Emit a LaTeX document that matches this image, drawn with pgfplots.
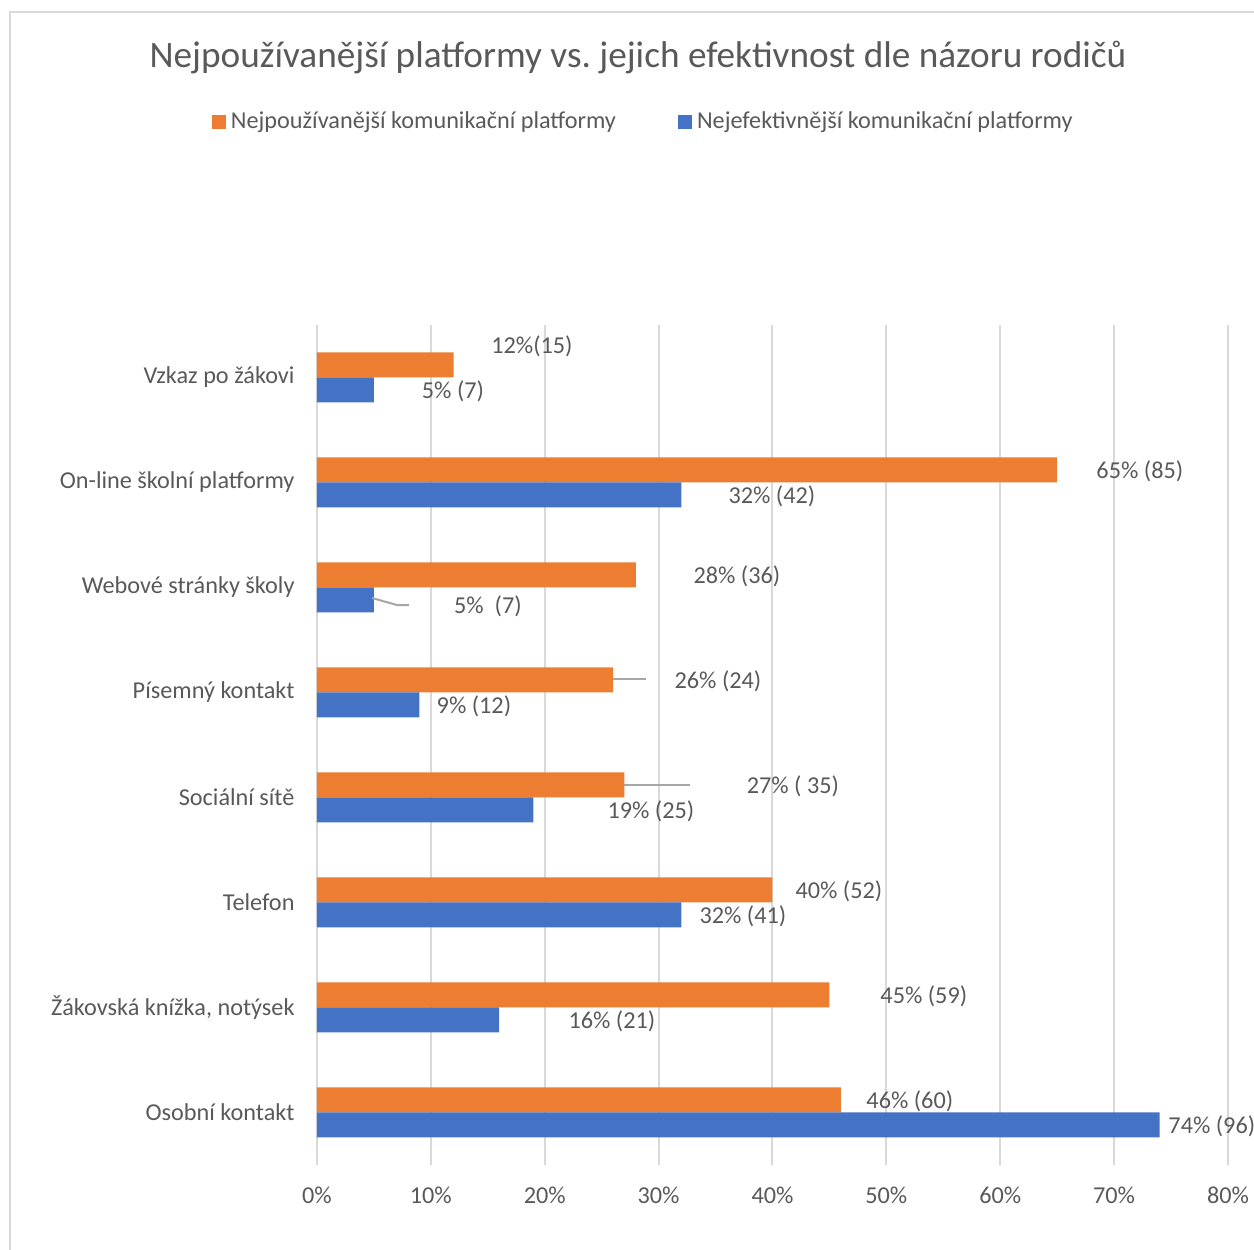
\documentclass[border=0pt]{standalone}
\usepackage{pgfplots}
\pgfplotsset{compat=1.18}
\usepackage{fontspec}
\setmainfont{Carlito}
\frenchspacing
\definecolor{txt}{HTML}{595959}
\definecolor{orangeb}{HTML}{ED7D31}
\definecolor{blueb}{HTML}{4472C4}
\definecolor{gridc}{HTML}{D9D9D9}
\definecolor{leader}{HTML}{A6A6A6}
\begin{document}
\begin{tikzpicture}[font=\fontsize{9.7pt}{11.5pt}\selectfont, text=txt]
\path[use as bounding box] (-126.8pt,-34pt) rectangle (374.8pt,466pt);
\draw[gridc, line width=0.8pt] (-122.8pt,-40pt) -- (-122.8pt,461.2pt) -- (380pt,461.2pt);
\begin{axis}[
  scale only axis, width=364.4pt, height=336pt,
  clip=false,
  xbar, bar width=10pt,
  xmin=0, xmax=80, ymin=-0.5, ymax=7.5,
  enlargelimits=false,
  xtick={0,10,...,80},
  xticklabels={0\%,10\%,20\%,30\%,40\%,50\%,60\%,70\%,80\%},
  ytick={0,...,7},
  yticklabels={Osobní kontakt,{Žákovská knížka, notýsek},{Telefon\hspace{2.8pt}},Sociální sítě,Písemný kontakt,Webové stránky školy,On-line školní platformy,Vzkaz po žákovi},
  xmajorgrids, ymajorgrids=false,
  grid style={gridc, line width=0.8pt},
  axis line style={draw=none},
  major tick length=0pt,
  tick label style={font=\fontsize{9.7pt}{11.5pt}\selectfont, text=txt},
  xticklabel style={anchor=center, yshift=-12pt},
  yticklabel style={anchor=east, inner sep=0pt, xshift=-8.8pt},
  legend style={at={(0.3598,1.2415)}, anchor=center, draw=none, fill=none,
    legend columns=2, font=\fontsize{9.7pt}{11.5pt}\selectfont, text=txt,
    /tikz/every even column/.append style={column sep=22.8pt}},
  legend image code/.code={\fill[#1] (0pt,-2.8pt) rectangle (5.6pt,2.8pt);},
]
\addplot[fill=orangeb, draw=none, bar shift=5pt] coordinates {
  (46,0) (45,1) (40,2) (27,3) (26,4) (28,5) (65,6) (12,7)};
\addlegendentry{Nejpoužívanější komunikační platformy}
\addplot[fill=blueb, draw=none, bar shift=-5pt] coordinates {
  (74,0) (16,1) (32,2) (19,3) (9,4) (5,5) (32,6) (5,7)};
\addlegendentry{Nejefektivnější komunikační platformy}

\draw[leader, line width=0.8pt] (axis cs:4.83,4.90) -- (axis cs:7.02,4.833) -- (axis cs:8.08,4.833);
\draw[leader, line width=0.8pt] (axis cs:26,4.129) -- (axis cs:28.88,4.129);
\draw[leader, line width=0.8pt] (axis cs:27,3.119) -- (axis cs:32.75,3.119);

\node at (axis cs:18.88,7.300) {12\%(15)};
\node at (axis cs:11.94,6.871) {5\% (7)};
\node at (axis cs:72.26,6.110) {65\% (85)};
\node at (axis cs:39.95,5.871) {32\% (42)};
\node at (axis cs:36.87,5.110) {28\% (36)};
\node at (axis cs:15.01,4.824) {5\%\ \ (7)};
\node at (axis cs:35.21,4.110) {26\% (24)};
\node at (axis cs:13.78,3.871) {9\% (12)};
\node at (axis cs:41.79,3.110) {27\% ( 35)};
\node at (axis cs:29.32,2.871) {19\% (25)};
\node at (axis cs:45.83,2.110) {40\% (52)};
\node at (axis cs:37.40,1.871) {32\% (41)};
\node at (axis cs:53.29,1.110) {45\% (59)};
\node at (axis cs:25.90,0.871) {16\% (21)};
\node at (axis cs:52.06,0.110) {46\% (60)};
\node at (axis cs:78.58,-0.129) {74\% (96)};
\end{axis}
\node at (128.4pt,442.8pt) {\fontsize{14.9pt}{17pt}\selectfont Nejpoužívanější platformy vs. jejich efektivnost dle názoru rodičů};
\end{tikzpicture}
\end{document}
